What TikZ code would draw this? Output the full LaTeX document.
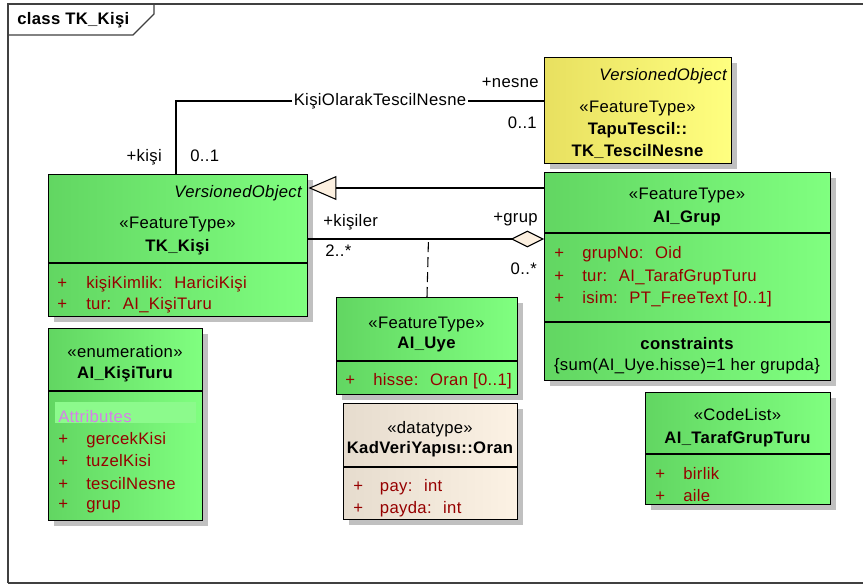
\documentclass[tikz,border=0pt]{standalone}
\usepackage{fontspec}
\setmainfont[LetterSpace=2]{Liberation Sans}
\usetikzlibrary{arrows.meta,shadows,calc}
\definecolor{gL}{RGB}{98,214,98}
\definecolor{gR}{RGB}{128,255,128}
\definecolor{yL}{RGB}{232,224,96}
\definecolor{yR}{RGB}{255,255,128}
\definecolor{cL}{RGB}{230,220,206}
\definecolor{cR}{RGB}{252,242,228}
\definecolor{cream}{RGB}{252,240,224}
\definecolor{attr}{RGB}{150,0,0}
\definecolor{purp}{RGB}{214,128,232}
\definecolor{shad}{RGB}{192,192,192}
\definecolor{band}{RGB}{140,250,140}
\begin{document}
\begin{tikzpicture}[x=0.75pt,y=-0.75pt,
  font=\fontsize{12.5}{15}\selectfont,
  cls/.style={draw=black, line width=1.1pt, anchor=north west, inner sep=0pt,
    drop shadow={shadow xshift=3.75pt, shadow yshift=-3.75pt, fill=shad, opacity=1}},
  gbox/.style={cls, left color=gL, right color=gR},
  ybox/.style={cls, left color=yL, right color=yR},
  cbox/.style={cls, left color=cL, right color=cR},
  sepline/.style={draw=black, line width=1.1pt},
  conn/.style={draw=black, line width=0.8pt},
  lbl/.style={inner sep=0pt},
  att/.style={inner sep=0pt, anchor=base west, text=attr},
  stereo/.style={inner sep=0pt, anchor=base},
  cname/.style={inner sep=0pt, anchor=base, font=\fontsize{12.5}{15}\selectfont\bfseries},
]
\useasboundingbox[fill=white] (0,0) rectangle (863,585);

% frame
\draw[black!75, line width=1pt] (8,583) -- (8,4) -- (875,4);
\draw[black!75, line width=1pt] (8,583) -- (875,583);
\draw[black!75, line width=0.8pt] (8,35) -- (133,35) -- (154,14) -- (154,4);
\node[lbl, anchor=base west, font=\fontsize{12.5}{15}\selectfont\bfseries] (title) at (17,25) {class TK\_Kişi};

% boxes
\node[gbox, minimum width=259*0.75pt, minimum height=142*0.75pt] (kisi) at (48,174) {};
\node[ybox, minimum width=187*0.75pt, minimum height=106*0.75pt] (tescil) at (544,57) {};
\node[gbox, minimum width=286*0.75pt, minimum height=208*0.75pt] (grup) at (544,172) {};
\node[gbox, minimum width=154*0.75pt, minimum height=192*0.75pt] (enum) at (48,328) {};
\node[gbox, minimum width=181*0.75pt, minimum height=97*0.75pt] (uye) at (336,297) {};
\node[cbox, minimum width=174*0.75pt, minimum height=116*0.75pt] (oran) at (343,403) {};
\node[gbox, minimum width=185*0.75pt, minimum height=112*0.75pt] (code) at (645,392) {};

% separators
\draw[sepline] (kisi.west |- 0,263) -- (kisi.east |- 0,263);
\draw[sepline] (grup.west |- 0,233) -- (grup.east |- 0,233);
\draw[sepline] (grup.west |- 0,322) -- (grup.east |- 0,322);
\draw[sepline] (enum.west |- 0,391) -- (enum.east |- 0,391);
\draw[sepline] (uye.west |- 0,361) -- (uye.east |- 0,361);
\draw[sepline] (oran.west |- 0,467) -- (oran.east |- 0,467);
\draw[sepline] (code.west |- 0,454) -- (code.east |- 0,454);

% connectors
\draw[conn] ($(kisi.north west)+(128,0)$) |- ($(tescil.north west)+(0,44)$);
\node[lbl, fill=white, inner xsep=1pt, inner ysep=2pt] (assocname) at (380,101) {KişiOlarakTescilNesne};
\draw[conn, -{Triangle[length=21pt, width=18pt, fill=cream, line width=0.8pt]}]
  ($(grup.north west)+(0,16)$) -- ($(kisi.north east)+(0,14)$);
\draw[conn, -{Diamond[length=25pt, width=12.5pt, fill=cream, line width=0.8pt]}]
  ($(kisi.north east)+(0,65)$) -- ($(grup.north west)+(0,67)$);
\draw[conn, dash pattern=on 7.5pt off 3.75pt] ($(uye.north west)+(91,0)$) -- ($(kisi.north east)+(120,65)$);

% connector labels
\node[lbl, anchor=base east] (nesne) at (539,88) {+nesne};
\node[lbl, anchor=base east] (nesnem) at (537,128) {0..1};
\node[lbl, anchor=base east] (kisirole) at (162,161) {+kişi};
\node[lbl, anchor=base west] (kisim) at (190,161) {0..1};
\node[lbl, anchor=base west] (kisiler) at (323,226) {+kişiler};
\node[lbl, anchor=base east] (gruprole) at (538,222) {+grup};
\node[lbl, anchor=base west] (kisilerm) at (325,256) {2..*};
\node[lbl, anchor=base east] (grupm) at (537,274) {0..*};

% TK_Kisi
\node[lbl, anchor=base east, font=\fontsize{12.5}{15}\selectfont\itshape] (k1) at (302,197) {VersionedObject};
\node[stereo] (k2) at (177.5,228) {«FeatureType»};
\node[cname] (k3) at (177.5,251) {TK\_Kişi};
\node[att] (k4) at (57,288) {\makebox[21.75pt][l]{+}kişiKimlik:~ HariciKişi};
\node[att] (k5) at (57,309) {\makebox[21.75pt][l]{+}tur:~ AI\_KişiTuru};

% TapuTescil
\node[lbl, anchor=base east, font=\fontsize{12.5}{15}\selectfont\itshape] (t1) at (727,80) {VersionedObject};
\node[stereo] (t2) at (637.5,113) {«FeatureType»};
\node[cname] (t3) at (637.5,134) {TapuTescil::};
\node[cname] (t4) at (637.5,156) {TK\_TescilNesne};

% AI_Grup
\node[stereo] (g1) at (687,199) {«FeatureType»};
\node[cname] (g2) at (687,222) {AI\_Grup};
\node[att] (g3) at (554,258) {\makebox[21pt][l]{+}grupNo:~ Oid};
\node[att] (g4) at (554,281) {\makebox[21pt][l]{+}tur:~ AI\_TarafGrupTuru};
\node[att] (g5) at (554,303) {\makebox[21pt][l]{+}isim:~ PT\_FreeText [0..1]};
\node[cname] (g6) at (687,349) {constraints};
\node[stereo] (g7) at (687,370) {\{sum(AI\_Uye.hisse)=1 her grupda\}};

% AI_KisiTuru
\node[stereo] (e1) at (125,357) {«enumeration»};
\node[cname] (e2) at (125,378) {AI\_KişiTuru};
\fill[band] (55,402) rectangle (196,423);
\node[lbl, anchor=base west, text=purp] (e3) at (58,422) {Attributes};
\node[att] (e4) at (58,444) {\makebox[21pt][l]{+}gercekKisi};
\node[att] (e5) at (58,466) {\makebox[21pt][l]{+}tuzelKisi};
\node[att] (e6) at (58,489) {\makebox[21pt][l]{+}tescilNesne};
\node[att] (e7) at (58,509) {\makebox[21pt][l]{+}grup};

% AI_Uye
\node[stereo] (u1) at (426.5,328) {«FeatureType»};
\node[cname] (u2) at (426.5,348) {AI\_Uye};
\node[att] (u3) at (345,385) {\makebox[21pt][l]{+}hisse:~ Oran [0..1]};

% Oran
\node[stereo] (o1) at (430,433) {«datatype»};
\node[cname] (o2) at (430,453) {KadVeriYapısı::Oran};
\node[att] (o3) at (353,491) {\makebox[20pt][l]{+}pay:~ int};
\node[att] (o4) at (353,513) {\makebox[20pt][l]{+}payda:~ int};

% CodeList
\node[stereo] (c1) at (737.5,420) {«CodeList»};
\node[cname] (c2) at (737.5,443) {AI\_TarafGrupTuru};
\node[att] (c3) at (655,479) {\makebox[21pt][l]{+}birlik};
\node[att] (c4) at (655,501) {\makebox[21pt][l]{+}aile};
\end{tikzpicture}
\end{document}
